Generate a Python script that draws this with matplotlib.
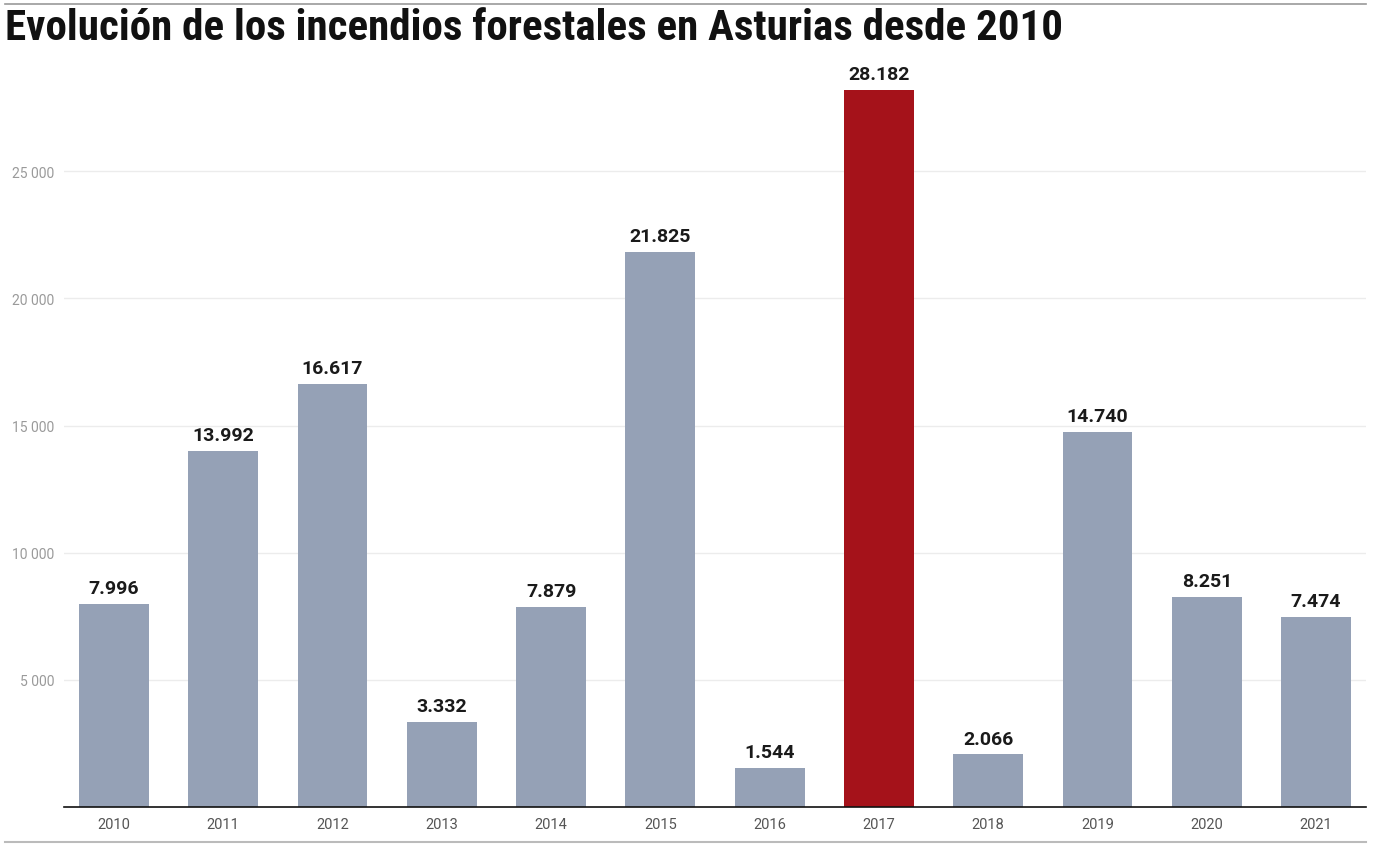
import matplotlib
matplotlib.use("Agg")
import matplotlib.pyplot as plt
from matplotlib.lines import Line2D
from matplotlib import font_manager

# Data
years = ["2010", "2011", "2012", "2013", "2014", "2015",
         "2016", "2017", "2018", "2019", "2020", "2021"]
fires = [7996, 13992, 16617, 3332, 7879, 21825,
         1544, 28182, 2066, 14740, 8251, 7474]
highlight = "2017"

GREY = "#95a1b6"
RED = "#a5121a"

plt.rcParams["font.family"] = ["Roboto", "DejaVu Sans"]

fig = plt.figure(figsize=(13.74, 8.54), dpi=100)
ax = fig.add_axes([64 / 1374, 46 / 854, 1302 / 1374, 735 / 854])

x = range(len(years))
colors = [RED if y == highlight else GREY for y in years]
ax.bar(x, fires, width=0.64, color=colors, zorder=2)

# Value labels with dot as thousands separator
for i, v in enumerate(fires):
    ax.annotate(f"{v:,}".replace(",", "."), (i, v), xytext=(0, 5),
                textcoords="offset points", ha="center", va="bottom",
                fontsize=14, fontweight="bold", color="#1a1a1a")

ax.set_xlim(-0.457, 11.457)
ax.set_ylim(0, 28900)
ax.set_xticks(list(x))
ax.set_xticklabels(years, fontsize=10.5, color="#555555")
ax.set_yticks([5000, 10000, 15000, 20000, 25000])
ax.set_yticklabels([f"{t:,}".replace(",", " ") for t in ax.get_yticks()],
                   fontsize=10, color="#9a9a9a")
ax.tick_params(axis="both", length=0)
ax.tick_params(axis="x", pad=7)
ax.tick_params(axis="y", pad=7)
ax.grid(axis="y", color="#ececec", linewidth=1, zorder=0)

for side in ["top", "right", "left"]:
    ax.spines[side].set_visible(False)
ax.spines["bottom"].set_color("#111111")
ax.spines["bottom"].set_linewidth(1.2)

# Title: prefer a condensed face if one is installed
names = {f.name for f in font_manager.fontManager.ttflist}
title_fam = None
for cand in ["Roboto Condensed", "Liberation Sans Narrow", "DejaVu Sans Condensed",
             "Open Sans Condensed", "Noto Sans Condensed"]:
    if cand in names:
        title_fam = cand
        break
if title_fam is None:
    title_kw = dict(family=["DejaVu Sans"], fontstretch="condensed", fontsize=26)
else:
    title_kw = dict(family=[title_fam, "DejaVu Sans"], fontsize=31)
fig.text(5 / 1374, 1 - 28 / 854, "Evolución de los incendios forestales en Asturias desde 2010",
         fontweight="bold", color="#111111", va="center", ha="left", **title_kw)
fig.add_artist(Line2D([5 / 1374, 1366 / 1374], [1 - 5 / 854, 1 - 5 / 854],
                      color="#999999", linewidth=1.2))
fig.add_artist(Line2D([5 / 1374, 1366 / 1374], [1 - 843 / 854, 1 - 843 / 854],
                      color="#bbbbbb", linewidth=1.5))

fig.savefig("out.png", dpi=100)
